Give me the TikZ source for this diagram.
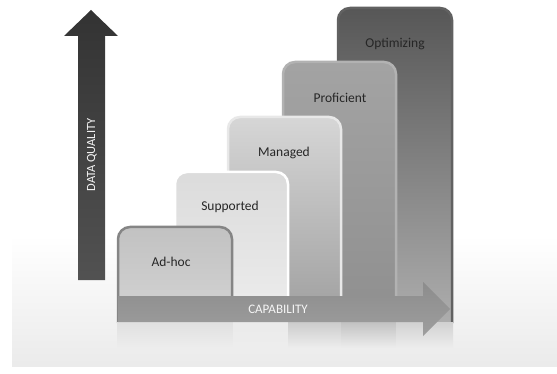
\documentclass[tikz,border=0pt]{standalone}
\usepackage{fontspec}
\setmainfont{Carlito}
\usetikzlibrary{positioning,calc}
\tikzset{
    level/.style = {
        line width=2.5pt,
        rounded corners=12pt
    },
    levellabel/.style = {
        font=\fontsize{13.5}{16}\selectfont,
        text=black!85
    },
    axislabel/.style = {
        font=\fontsize{13}{15}\selectfont,
        text=black!4
    },
    axisarrow/.style = {
        line join=miter
    },
}

\begin{document}
\begin{tikzpicture}[x=1pt, y=-1pt]
    \useasboundingbox (0,0) rectangle (557,374);
    \fill[top color=white, bottom color=black!8] (12,235) rectangle (557,366);

    \path[level, draw=black!62, top color=black!66, bottom color=black!32] (338,323) -- (338,8) -- (452,8) -- (452,323);
    \path[level, draw=black!30, top color=black!36, bottom color=black!44] (283,323) -- (283,62) -- (396,62) -- (396,323);
    \path[level, draw=black!9, top color=black!16, bottom color=black!38] (228,323) -- (228,117) -- (341,117) -- (341,323);
    \path[level, draw=white, top color=black!14, bottom color=black!7] (175,323) -- (175,172) -- (288,172) -- (288,323);
    \path[level, draw=black!48, top color=black!24, bottom color=black!17] (118,323) -- (118,227) -- (232,227) -- (232,323);

    \foreach \xa/\xb/\shade in {117/233/12, 233/288/8, 288/341/20, 341/396/24, 396/453/18}
        \fill[top color=black!\shade, bottom color=black!7] (\xa,322) rectangle (\xb,348);

    \path[axisarrow, top color=black!45, bottom color=black!38] (118,296) -- (423,296) -- (423,282) -- (450,309) -- (423,336) -- (423,322) -- (118,322) -- cycle;
    \path[axisarrow, top color=black!80, bottom color=black!68] (78,280) -- (78,36) -- (64,36) -- (91,10) -- (118,36) -- (105,36) -- (105,280) -- cycle;

    \node[levellabel] (adhoc) at (171,262) {Ad-hoc};
    \node[levellabel] (supported) at (230,207) {Supported};
    \node[levellabel] (managed) at (284,153) {Managed};
    \node[levellabel] (proficient) at (340,98) {Proficient};
    \node[levellabel] (optimizing) at (395,44) {Optimizing};

    \node[axislabel] (capability) at (278,309) {CAPABILITY};
    \node[axislabel, rotate=90, font=\fontsize{12.5}{15}\selectfont] (quality) at (92,155) {DATA QUALITY};
\end{tikzpicture}
\end{document}
